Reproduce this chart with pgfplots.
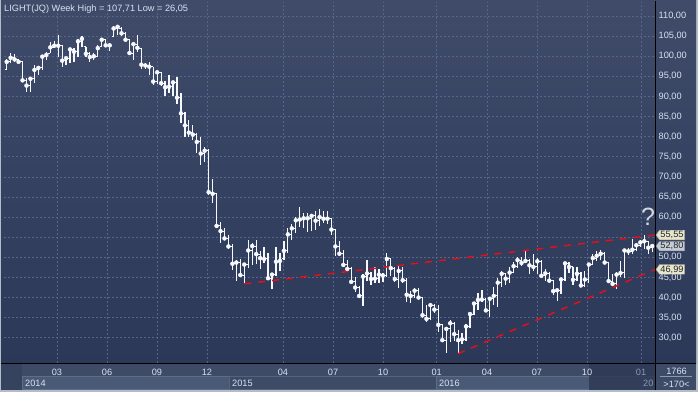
\documentclass[border=0pt]{standalone}
\usepackage{pgfplots}
\pgfplotsset{compat=1.18}
\usepackage{pgfplotstable}
\usepackage{fontspec}
\setmainfont{Liberation Sans}
\definecolor{bgtop}{HTML}{3F4B69}
\definecolor{bgbot}{HTML}{2B3858}
\definecolor{framec}{HTML}{B4BCC8}
\definecolor{stripc}{HTML}{36435F}
\definecolor{rowc}{HTML}{3D4B67}
\definecolor{boxc}{HTML}{4A5976}
\definecolor{boxline}{HTML}{5D6D8A}
\definecolor{overc}{HTML}{2C3853}
\definecolor{gridc}{HTML}{56658A}
\definecolor{labc}{HTML}{D6E2F2}
\definecolor{dimc}{HTML}{8A98B0}
\definecolor{barc}{HTML}{F6F8FB}
\definecolor{trendc}{HTML}{E0101C}
\definecolor{tagy}{HTML}{E6E6CE}
\definecolor{tagg}{HTML}{C4CCD6}
\definecolor{qc}{HTML}{D4D8E0}

\pgfdeclareplotmark{otick}{\pgfpathmoveto{\pgfqpoint{-2.1pt}{0pt}}\pgfpathlineto{\pgfqpoint{0pt}{0pt}}\pgfusepathqstroke}
\pgfdeclareplotmark{ctick}{\pgfpathmoveto{\pgfqpoint{0pt}{0pt}}\pgfpathlineto{\pgfqpoint{2.1pt}{0pt}}\pgfusepathqstroke}

\pgfplotstableread{
i O H L C
0 96.6 99.2 96.6 98.6
1 98.6 100.7 98.4 99.6
2 99.6 100.5 98.6 99.2
3 99.2 99.3 98.2 98.6
4 98.6 98.9 93.7 94.0
5 94.0 94.5 91.2 92.7
6 92.7 94.7 91.2 94.4
7 94.4 97.8 93.3 96.6
8 96.6 97.4 95.3 97.1
9 97.1 100.3 96.6 99.9
10 99.9 101.1 99.1 100.3
11 100.7 103.6 100.7 102.2
12 102.2 103.9 102.0 102.6
13 102.6 105.3 99.9 102.6
14 102.6 102.8 97.2 98.9
15 98.9 99.9 97.8 99.5
16 99.5 102.0 98.4 101.7
17 101.7 102.0 98.6 101.1
18 101.1 104.4 99.9 103.7
19 103.7 105.0 102.4 104.3
20 102.3 102.4 99.7 100.6
21 100.6 101.1 98.6 99.8
22 99.8 100.7 99.1 100.0
23 100.0 102.8 99.9 102.0
24 102.4 104.4 102.4 104.1
25 104.1 104.4 102.5 102.7
26 102.7 103.2 101.4 102.7
27 105.0 107.5 104.9 106.9
28 106.9 107.71 105.3 107.3
29 107.0 107.2 105.0 105.7
30 105.7 106.1 103.9 104.1
31 104.1 104.2 100.3 100.8
32 100.8 103.2 99.1 103.0
33 103.0 105.3 101.1 102.1
34 101.8 102.0 96.7 97.9
35 97.9 98.4 96.7 97.7
36 97.7 98.6 95.3 97.4
37 97.4 97.4 92.8 93.7
38 93.7 96.2 93.1 96.0
39 96.0 96.2 92.6 93.3
40 93.3 93.9 90.1 92.3
41 92.3 95.3 90.8 92.4
42 92.4 93.7 90.1 93.5
43 93.5 94.9 88.1 89.7
44 89.7 90.8 83.5 85.8
45 85.8 86.2 79.8 82.8
46 82.8 84.1 79.8 81.0
47 81.0 82.9 79.2 80.5
48 80.5 80.8 75.9 78.7
49 78.7 79.8 73.0 75.8
50 75.8 77.5 73.8 76.5
51 76.5 76.9 65.5 66.2
52 66.2 69.4 63.6 65.8
53 65.8 66.0 57.5 57.8
54 57.8 58.9 53.5 56.5
55 56.5 57.2 54.3 54.7
56 54.7 55.5 52.1 52.7
57 52.7 53.2 46.8 48.4
58 48.4 49.3 44.2 48.7
59 48.7 49.5 45.2 45.6
60 45.6 48.3 43.6 48.2
61 48.2 54.2 47.4 51.7
62 51.7 53.5 48.1 52.8
63 52.8 54.2 48.3 50.8
64 50.8 51.5 47.2 49.8
65 49.8 52.5 48.7 49.6
66 49.6 51.0 44.4 44.8
67 44.8 46.0 42.0 45.7
68 45.7 52.5 45.4 48.9
69 48.9 51.0 46.7 49.1
70 49.6 54.0 49.4 51.6
71 51.6 57.4 51.0 55.7
72 55.7 58.4 54.3 57.2
73 57.2 59.9 56.0 59.2
74 59.2 62.6 57.6 59.4
75 59.4 61.1 57.2 59.7
76 59.7 61.0 56.4 59.7
77 59.7 60.6 56.5 60.3
78 60.3 61.6 56.8 59.1
79 59.1 61.9 57.9 60.0
80 60.0 61.4 58.6 59.6
81 59.6 61.4 58.4 59.6
82 59.6 59.7 55.6 56.9
83 56.9 57.0 50.3 52.7
84 52.7 54.0 50.3 50.9
85 50.9 51.8 47.7 48.1
86 48.1 49.3 46.6 47.1
87 47.1 47.5 43.6 43.9
88 43.9 45.0 41.4 42.5
89 42.5 42.9 39.8 40.4
90 40.4 45.9 37.8 45.2
91 45.2 49.3 44.0 46.0
92 46.0 46.4 43.2 44.6
93 44.6 47.7 43.6 44.7
94 44.7 47.0 43.6 45.7
95 45.7 46.2 43.9 45.5
96 45.5 51.0 45.2 49.6
97 49.6 49.8 45.3 47.3
98 47.3 47.7 43.9 44.6
99 44.6 48.1 42.3 46.6
100 46.6 47.5 43.5 44.3
101 44.3 44.8 39.0 40.7
102 40.7 41.5 38.6 40.4
103 40.4 42.3 39.8 41.7
104 41.7 42.3 39.7 40.0
105 40.0 40.2 34.9 35.6
106 35.6 38.2 34.0 34.7
107 34.7 38.2 34.5 38.1
108 38.1 38.4 36.1 37.0
109 37.0 38.2 31.5 33.2
110 33.2 33.4 29.1 29.4
111 29.4 32.4 26.2 32.2
112 32.2 34.4 29.0 33.6
113 33.6 34.0 29.3 30.9
114 30.9 32.0 26.05 29.4
115 29.4 31.1 28.5 29.6
116 29.6 33.5 29.3 32.8
117 32.8 36.1 32.3 35.9
118 35.9 39.0 35.7 38.5
119 38.5 41.1 36.8 39.4
120 39.4 41.9 38.9 39.5
121 39.5 39.9 36.3 36.8
122 36.8 39.8 35.2 39.7
123 39.7 42.7 38.2 40.4
124 40.4 44.8 37.6 43.7
125 43.7 46.6 42.7 45.9
126 45.9 46.2 43.1 44.7
127 44.7 47.6 43.6 46.2
128 46.2 48.8 46.0 47.8
129 47.8 50.2 47.3 49.3
130 49.3 50.2 47.8 48.6
131 48.6 51.7 48.6 49.1
132 49.1 49.5 45.8 48.0
133 48.0 50.8 46.7 47.6
134 47.6 49.9 45.8 49.0
135 49.0 49.4 44.9 45.4
136 45.4 47.0 44.1 46.0
137 46.0 46.4 43.6 44.2
138 44.2 44.3 40.6 41.6
139 41.6 42.1 39.2 41.8
140 41.8 44.7 41.0 44.5
141 44.5 48.9 44.2 48.5
142 48.5 48.9 46.0 47.6
143 47.6 47.7 43.1 44.4
144 44.4 47.7 44.0 45.9
145 45.9 46.4 42.5 43.0
146 43.0 46.5 42.5 44.5
147 44.5 48.3 43.6 48.2
148 48.2 50.7 48.2 49.8
149 49.8 51.6 49.2 50.4
150 50.4 51.9 49.3 50.9
151 50.9 51.3 48.5 48.7
152 48.7 48.9 44.1 44.1
153 44.1 45.9 43.0 43.4
154 43.4 46.3 42.2 45.7
155 45.7 49.2 45.0 46.1
156 46.1 51.9 44.8 51.7
157 51.7 52.4 50.5 51.5
158 51.5 54.5 50.7 51.9
159 51.9 53.6 51.6 53.0
160 53.0 54.3 52.6 53.7
161 53.7 55.5 52.1 54.0
162 54.0 54.1 50.7 52.4
163 52.4 53.2 51.2 52.8
}\ohlc

\begin{document}
\begin{tikzpicture}[x=1pt,y=1pt]
% frame and backgrounds
\fill[framec] (0,0) rectangle (698,392);
\shade[top color=bgtop, bottom color=bgbot] (1,29) rectangle (696,391);
\fill[stripc] (1,2) rectangle (696,29);
\fill[rowc] (22,2) rectangle (655,29);
\filldraw[fill=boxc, draw=boxline, line width=0.6pt] (22,3) rectangle (229,15.5);
\filldraw[fill=rowc, draw=boxline!70!rowc, line width=0.6pt] (229,3) rectangle (436,15.5);
\filldraw[fill=boxc, draw=boxline, line width=0.6pt] (436,3) rectangle (655,15.5);
\fill[overc, opacity=0.8] (589,2) rectangle (655,29);
\fill[rowc] (655,2) rectangle (696,29);

\begin{axis}[
  at={(4pt,29pt)}, anchor=south west,
  scale only axis, width=651pt, height=361pt,
  xmin=-0.68, xmax=163.71, ymin=23.72, ymax=113.48,
  axis line style={draw=none},
  major tick length=0pt,
  xmajorgrids, ymajorgrids,
  grid style={draw=gridc, line width=0.6pt, dash pattern=on 2pt off 2pt},
  ytick={30,35,...,110},
  yticklabels={{30,00},{35,00},{40,00},{45,00},{50,00},{},{60,00},{65,00},{70,00},{75,00},{80,00},{85,00},{90,00},{95,00},{100,00},{105,00},{110,00}},
  yticklabel pos=right,
  yticklabel style={anchor=west, inner sep=0pt, xshift=3.5pt, text=labc, font=\fontsize{9.2}{10}\selectfont},
  xtick={12.70,25.33,37.95,50.58,69.77,82.40,95.03,108.59,121.29,133.91,146.54,160.18},
  xticklabels={03,06,09,12,04,07,10,01,04,07,10,{\textcolor{dimc}{01}}},
  xticklabel style={anchor=base, inner sep=0pt, yshift=-12pt, text=labc, font=\fontsize{9.2}{10}\selectfont},
]
\addplot[barc, only marks, mark=none, forget plot,
  error bars/.cd, y dir=both, y explicit, error mark=none,
  error bar style={draw=barc, line width=1.25pt}]
  table[x=i, y=C, y error plus expr=\thisrow{H}-\thisrow{C}, y error minus expr=\thisrow{C}-\thisrow{L}] {\ohlc};
\addplot[barc, only marks, mark=otick, mark options={draw=barc, fill=barc, line width=1pt}] table[x=i, y=O] {\ohlc};
\addplot[barc, only marks, mark=ctick, mark options={draw=barc, fill=barc, line width=1pt}] table[x=i, y=C] {\ohlc};
\addplot[draw=trendc, line width=1.5pt, dash pattern=on 7pt off 7pt] coordinates {(60,43.4) (163.71,55.55)};
\addplot[draw=trendc, line width=1.5pt, dash pattern=on 7pt off 7pt] coordinates {(114,26.05) (163.71,46.99)};
\end{axis}

% axis lines
\draw[black, line width=1pt] (1,29) -- (696,29);
\draw[black, line width=1pt] (655,2) -- (655,391);

% price tags
\foreach \yc/\lab/\col in {157/{55,55}/tagy, 145.9/{52,80}/tagg, 122.6/{46,99}/tagy}{
  \filldraw[fill=\col, draw=\col!70!black, line width=0.4pt] (656,\yc) -- (659.5,\yc+4.8) -- (684.5,\yc+4.8) -- (684.5,\yc-4.8) -- (659.5,\yc-4.8) -- cycle;
  \node[anchor=center, inner sep=0pt, text=black!85, font=\fontsize{9.2}{10}\selectfont] at (672,\yc) {\lab};
}

% question mark
\node[anchor=base, inner sep=0pt, text=qc, font=\fontsize{25}{25}\selectfont] at (648,167) {?};

% title
\node[anchor=base west, inner sep=0pt, text=labc, font=\fontsize{9.2}{10}\selectfont] at (4,380.5) {LIGHT(JQ) Week High = 107,71 Low = 26,05};

% year labels
\begin{scope}[every node/.style={anchor=base west, inner sep=0pt, text=labc, font=\fontsize{9.2}{10}\selectfont}]
\node at (25,5.5) {2014};
\node at (232,5.5) {2015};
\node at (439,5.5) {2016};
\node[text=dimc] at (643,5.5) {20};
\end{scope}

% bottom-right box
\draw[dimc, line width=0.6pt] (660,15.5) -- (692,15.5);
\node[anchor=base, inner sep=0pt, text=labc, font=\fontsize{9.2}{10}\selectfont] at (676.5,18) {1766};
\node[anchor=base, inner sep=0pt, text=labc, font=\fontsize{9.2}{10}\selectfont] at (676.5,4.5) {>170<};

\pgfresetboundingbox
\path[use as bounding box] (0,0) rectangle (698,392);
\end{tikzpicture}
\end{document}
